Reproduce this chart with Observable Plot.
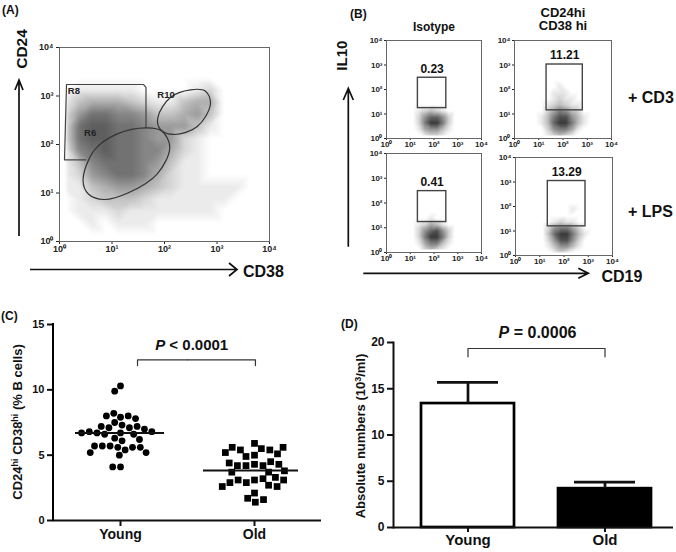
<!DOCTYPE html>
<html><head><meta charset="utf-8">
<script src="https://cdn.jsdelivr.net/npm/d3@7"></script>
<script src="https://cdn.jsdelivr.net/npm/@observablehq/plot@0.6"></script>
<style>
body{margin:0;background:#fff;}
#wrap{position:relative;width:676px;height:552px;overflow:hidden;background:#fff;}
.p{position:absolute;}
.p svg{overflow:visible;}
</style></head><body><div id="wrap"></div>
<script>
// ---------- DATA ----------
const decadeTicks = [1, 10, 100, 1000, 10000];
const decadeLabels = ["10⁰", "10¹", "10²", "10³", "10⁴"];

// Panel A: CD38 (x) vs CD24 (y) event density, read per 0.25-decade cell (0 = empty, 9 = densest)
// rows: CD24 10^4 (top) -> 10^0 (bottom); cols: CD38 10^0 -> 10^4
const densA = [
  "0000000000000000",
  "0000000000000000",
  "0000000000000000",
  "0111110000120000",
  "1344432113440000",
  "2577665334530000",
  "2788776555310000",
  "2788776552100000",
  "1678776642100000",
  "1367776531100000",
  "1256776421100000",
  "1134554321111100",
  "0123332111111000",
  "0111211111110000",
  "0010111000000000",
  "0000000000000000"
];
const gateR8 = [
  {x: 3.2, y: 48.4}, {x: 1.245, y: 48.4}, {x: 1.36, y: 1726}, {x: 40, y: 1726},
  {x: 44.4, y: 1500}, {x: 44.4, y: 227}
];
const gateR6 = [
  {x: 2.81, y: 18.1}, {x: 3.55, y: 9.55}, {x: 7.05, y: 7.35}, {x: 20.0, y: 10.0},
  {x: 72.9, y: 24.9}, {x: 126, y: 87.9}, {x: 89.1, y: 190}, {x: 47.1, y: 221},
  {x: 12.6, y: 166}, {x: 4.55, y: 75.2}
];
const gateR10 = [
  {x: 75, y: 366}, {x: 81.8, y: 211}, {x: 151, y: 161}, {x: 421, y: 235},
  {x: 752, y: 690}, {x: 604, y: 1259}, {x: 313, y: 1343}, {x: 131, y: 944}
];
const gateLabelsA = [
  {x: 1.44, y: 1259, text: "R8"},
  {x: 2.94, y: 171, text: "R6"},
  {x: 73, y: 1072, text: "R10"}
];

// Panel B: CD19 (x) vs IL10 (y) density, rows IL10 10^2.5 -> 10^0, cols CD19 10^1 -> 10^3 (0.25 decade)
const densIsoCD3 = [
  "00000000","00000000","00000000","00000000","00000000",
  "01232100","02577520","02699620","01455310","00122100"
];
const densHiCD3 = [
  "00000000","00010000","00111000","00121100","01232110",
  "02465320","13688531","13799631","02566410","01232100"
];
const densIsoLPS = [
  "00000000","00000000","00000000","00000000","00010000",
  "01243100","02578520","02699620","01466310","00232100"
];
const densHiLPS = [
  "00000000","00000000","00000100","00000000","00121100",
  "02566420","03799631","02588520","01355310","00121000"
];
const gatesB = [
  {x1: 21, x2: 330, y1: 17.4, y2: 302, label: "0.23"},
  {x1: 21, x2: 655, y1: 14.1, y2: 1047, label: "11.21"},
  {x1: 21, x2: 330, y1: 17.0, y2: 302, label: "0.41"},
  {x1: 21.5, x2: 770, y1: 15.5, y2: 1096, label: "13.29"}
];

// Panel C
const groups = ["Young", "Old"];
const youngPct = [10.3, 9.9, 7.9, 7.5, 8.2, 8.0, 8.0, 7.8, 7.3, 7.1, 7.1, 7.2, 7.2, 7.0, 6.7, 6.6, 6.7, 6.8,
  6.8, 6.6, 6.7, 6.3, 6.1, 6.2, 5.6, 5.4, 5.7, 5.6, 5.7, 5.6, 5.7, 5.2, 5.0, 5.2, 4.1, 4.1];
const oldPct = [5.9, 5.0, 4.9, 5.5, 5.4, 5.4, 5.6, 5.1, 5.6, 5.2, 4.3, 4.2, 4.2, 4.5, 4.2, 4.3, 4.4, 3.7,
  3.7, 3.8, 3.1, 2.9, 3.2, 3.1, 3.3, 2.9, 3.1, 2.7, 2.6, 2.6, 2.1, 1.7, 1.4, 1.6];
const meanPct = [6.7, 3.83];
const bracketC = {y: 12.3, yEnd: 11.86, from: 0.627, to: 0.507};

// Panel D
const absMean = [13.4, 4.2];
const absSem = [2.3, 0.7];
const bracketD = {y: 19.35, yEnd: 18.45};

// ---------- HELPERS ----------
const font = "'Liberation Sans', Arial, Helvetica, sans-serif";
const wrap = document.getElementById("wrap");
function place(node, left, top) {
  const d = document.createElement("div");
  d.className = "p";
  d.style.left = left + "px";
  d.style.top = top + "px";
  d.style.width = node.getAttribute("width") + "px";
  d.appendChild(node);
  wrap.appendChild(d);
}
const fmtDecade = d => decadeLabels[decadeTicks.indexOf(d)] ?? "";
// builds a full 16x16 (0.25-decade) sample table over 10^0..10^4, cells outside the read block are empty
function densityTable(rows, colStartLog, rowTopLog) {
  const out = [];
  for (let r = 0; r < 16; r++) for (let c = 0; c < 16; c++) {
    const lx = c * 0.25 + 0.125, ly = 4 - r * 0.25 - 0.125;
    const sc = Math.round((lx - colStartLog) / 0.25 - 0.5), sr = Math.round((rowTopLog - ly) / 0.25 - 0.5);
    let v = 0;
    if (sr >= 0 && sr < rows.length && sc >= 0 && sc < rows[sr].length) v = +rows[sr][sc];
    out.push({x: 10 ** lx, y: 10 ** ly, v});
  }
  return out;
}

// ---------- PANEL A ----------
const plotA = Plot.plot({
  width: 300, height: 290,
  marginLeft: 59, marginRight: 31, marginTop: 47, marginBottom: 49,
  x: {type: "log", domain: [1, 1e4], ticks: decadeTicks, tickFormat: fmtDecade, tickSize: 3, tickPadding: 1, label: null},
  y: {type: "log", domain: [1, 1e4], ticks: decadeTicks, tickFormat: fmtDecade, tickSize: 3, tickPadding: 3, label: null},
  color: {type: "linear", domain: [0, 9], range: ["#ffffff", "#4a4a4a"]},
  style: {fontFamily: font, fontSize: "9px", fontWeight: "bold", color: "#222", background: "transparent"},
  marks: [
    Plot.raster(densityTable(densA, 0, 4), {x: "x", y: "y", fill: "v", interpolate: "barycentric", blur: 1}),
    Plot.frame({stroke: "#666"}),
    Plot.line(gateR8, {x: "x", y: "y", stroke: "#444", strokeWidth: 1.2}),
    Plot.line(gateR6, {x: "x", y: "y", stroke: "#333", strokeWidth: 1.2, curve: "catmull-rom-closed"}),
    Plot.line(gateR10, {x: "x", y: "y", stroke: "#333", strokeWidth: 1.2, curve: "catmull-rom-closed"}),
    Plot.text(gateLabelsA, {x: "x", y: "y", text: "text", textAnchor: "start", fontSize: 9.5, fontWeight: "bold", fill: "#222"})
  ]
});
place(plotA, 0, 0);

// ---------- PANEL B ----------
const flowLayout = [
  {dens: densIsoCD3, gate: 0, frame: [386, 481, 40, 138]},
  {dens: densHiCD3, gate: 1, frame: [514, 611, 40, 138]},
  {dens: densIsoLPS, gate: 2, frame: [386, 481, 153, 252]},
  {dens: densHiLPS, gate: 3, frame: [515, 612, 157, 255]}
];
for (const f of flowLayout) {
  const [fl, fr, ft, fb] = f.frame;
  const mL = 40, mR = 12, mT = 12, mB = 18;
  const p = Plot.plot({
    width: fr - fl + mL + mR, height: fb - ft + mT + mB,
    marginLeft: mL, marginRight: mR, marginTop: mT, marginBottom: mB,
    x: {type: "log", domain: [1, 1e4], ticks: decadeTicks, tickFormat: fmtDecade, tickSize: 2, tickPadding: 1, label: null},
    y: {type: "log", domain: [1, 1e4], ticks: decadeTicks, tickFormat: fmtDecade, tickSize: 2, tickPadding: 2, label: null},
    color: {type: "linear", domain: [0, 9], range: ["#ffffff", "#3a3a3a"]},
    style: {fontFamily: font, fontSize: "8px", fontWeight: "bold", color: "#222", background: "transparent"},
    marks: [
      Plot.raster(densityTable(f.dens, 1, 2.5), {x: "x", y: "y", fill: "v", interpolate: "barycentric"}),
      Plot.frame({stroke: "#666"}),
      Plot.rect([gatesB[f.gate]], {x1: "x1", x2: "x2", y1: "y1", y2: "y2", fill: "none", stroke: "#444", strokeWidth: 1.4}),
      Plot.text([gatesB[f.gate]], {x: d => Math.sqrt(d.x1 * d.x2), y: "y2", text: "label", dy: -9, fontSize: 12, fontWeight: "bold", fill: "#111"})
    ]
  });
  place(p, fl - mL, ft - mT);
}

// ---------- PANEL C ----------
const cTable = [
  ...youngPct.map(v => ({group: "Young", v})),
  ...oldPct.map(v => ({group: "Old", v}))
];
const cMeans = groups.map((g, i) => ({group: g, mean: meanPct[i]}));
const cBracket = [
  {fx: "Young", x: bracketC.from, y: bracketC.yEnd}, {fx: "Young", x: bracketC.from, y: bracketC.y}, {fx: "Young", x: 1, y: bracketC.y},
  {fx: "Old", x: 0, y: bracketC.y}, {fx: "Old", x: bracketC.to, y: bracketC.y}, {fx: "Old", x: bracketC.to, y: bracketC.yEnd}
];
const plotC = Plot.plot({
  width: 340, height: 252, marginLeft: 53, marginRight: 19, marginTop: 24, marginBottom: 32,
  fx: {domain: groups, padding: 0, label: null},
  x: {domain: [0, 1], axis: null},
  y: {domain: [0, 15], label: null},
  style: {fontFamily: font, fontSize: "11px", fontWeight: "bold", color: "#111", background: "transparent"},
  marks: [
    Plot.axisY({ticks: [0, 5, 10, 15], tickSize: 6, tickPadding: 3, strokeWidth: 2, fontSize: 11, fontWeight: "bold", label: null}),
    Plot.axisFx({anchor: "bottom", tickSize: 6, tickPadding: 3, strokeWidth: 2, fontSize: 14, fontWeight: "bold", label: null}),
    Plot.ruleY([0], {strokeWidth: 2}),
    Plot.dot(cTable.filter(d => d.group === "Young"), Plot.dodgeX({anchor: "middle", padding: 1},
      {y: "v", fx: "group", r: 3.4, fill: "#000", symbol: "circle"})),
    Plot.dot(cTable.filter(d => d.group === "Old"), Plot.dodgeX({anchor: "middle", padding: 1},
      {y: "v", fx: "group", r: 3.8, fill: "#000", symbol: "square"})),
    Plot.tickY(cMeans.filter(d => d.group === "Young"), {y: "mean", fx: "group", insetLeft: 22, insetRight: 23, strokeWidth: 2}),
    Plot.tickY(cMeans.filter(d => d.group === "Old"), {y: "mean", fx: "group", insetLeft: 16, insetRight: 23, strokeWidth: 2}),
    Plot.line(cBracket, {x: "x", y: "y", fx: "fx", stroke: "#333", strokeWidth: 1.2})
  ]
});
place(plotC, 0, 300);

// ---------- PANEL D ----------
const dTable = groups.map((g, i) => ({group: g, mean: absMean[i], sem: absSem[i]}));
const dBracket = [
  {x: "Young", y: bracketD.yEnd}, {x: "Young", y: bracketD.y}, {x: "Old", y: bracketD.y}, {x: "Old", y: bracketD.yEnd}
];
const plotD = Plot.plot({
  width: 336, height: 252,
  marginLeft: 53, marginRight: 3, marginTop: 42, marginBottom: 25,
  x: {domain: groups, paddingInner: 0.323, paddingOuter: 0.18, align: 0.56, label: null},
  y: {domain: [0, 20], label: null},
  color: {domain: groups, range: ["#ffffff", "#000000"]},
  style: {fontFamily: font, fontSize: "12px", fontWeight: "bold", color: "#111", background: "transparent"},
  marks: [
    Plot.axisY({ticks: [0, 5, 10, 15, 20], tickSize: 6, tickPadding: 3, strokeWidth: 2, fontSize: 12, fontWeight: "bold", label: null}),
    Plot.axisX({tickSize: 5, tickPadding: 2, strokeWidth: 2, fontSize: 15, fontWeight: "bold", label: null}),
    Plot.barY(dTable, {x: "group", y: "mean", fill: "group", stroke: "#000", strokeWidth: 2.7}),
    Plot.ruleX(dTable, {x: "group", y1: "mean", y2: d => d.mean + d.sem, strokeWidth: 2.7}),
    Plot.tickY(dTable, {x: "group", y: d => d.mean + d.sem, insetLeft: 16, insetRight: 16, strokeWidth: 2.7}),
    Plot.ruleY([0], {strokeWidth: 2}),
    Plot.frame({anchor: "left", strokeWidth: 2}),
    Plot.line(dBracket, {x: "x", y: "y", stroke: "#333", strokeWidth: 1.2})
  ]
});
place(plotD, 340, 300);

// ---------- ANNOTATIONS (titles, arrows, axis titles, C axis line) ----------
const ov = document.createElement("div");
ov.className = "p";
ov.style.left = "0px"; ov.style.top = "0px";
ov.innerHTML = `<svg width="676" height="552" style="font-family:${font};font-weight:bold;pointer-events:none" fill="#111">
<g stroke="#111" fill="none" stroke-width="1.7">
  <path d="M19,236V80M15,90L19,80L23,90"/>
  <path d="M30,269.5H237M229,263L237,269.5L229,276"/>
  <path d="M348.3,246.7V88.3M343.3,100L348.3,88.3L353.3,100"/>
  <path d="M363.3,273.3H588.3M578.3,268.3L588.3,273.3L578.3,278.3"/>
</g>
<path d="M53,323V521" stroke="#000" stroke-width="2" fill="none"/>
<text x="2" y="14" font-size="12">(A)</text>
<text transform="translate(27,49) rotate(-90)" text-anchor="middle" font-size="15.5">CD24</text>
<text x="243" y="277" font-size="16">CD38</text>
<text x="350" y="18" font-size="12">(B)</text>
<text x="434" y="31" text-anchor="middle" font-size="12">Isotype</text>
<text x="563" y="16.5" text-anchor="middle" font-size="13">CD24hi</text>
<text x="563" y="30" text-anchor="middle" font-size="13">CD38 hi</text>
<text transform="translate(346.5,55.7) rotate(-90)" text-anchor="middle" font-size="15">IL10</text>
<text x="601.5" y="282" font-size="16">CD19</text>
<text x="628" y="103" font-size="16">+ CD3</text>
<text x="628" y="217" font-size="16">+ LPS</text>
<text x="1" y="320" font-size="12">(C)</text>
<text transform="translate(22,422) rotate(-90)" text-anchor="middle" font-size="13">CD24<tspan font-size="9" dy="-4">hi</tspan><tspan dy="4"> CD38</tspan><tspan font-size="9" dy="-4">hi</tspan><tspan dy="4"> (% B cells)</tspan></text>
<text x="191.7" y="350" text-anchor="middle" font-size="15"><tspan font-style="italic">P</tspan> &lt; 0.0001</text>
<text x="341" y="328" font-size="12">(D)</text>
<text x="537.5" y="338" text-anchor="middle" font-size="16"><tspan font-style="italic">P</tspan> = 0.0006</text>
<text transform="translate(365,436) rotate(-90)" text-anchor="middle" font-size="13">Absolute numbers (10<tspan font-size="9" dy="-4">3</tspan><tspan dy="4">/ml)</tspan></text>
</svg>`;
wrap.appendChild(ov);
</script>
</body></html>
